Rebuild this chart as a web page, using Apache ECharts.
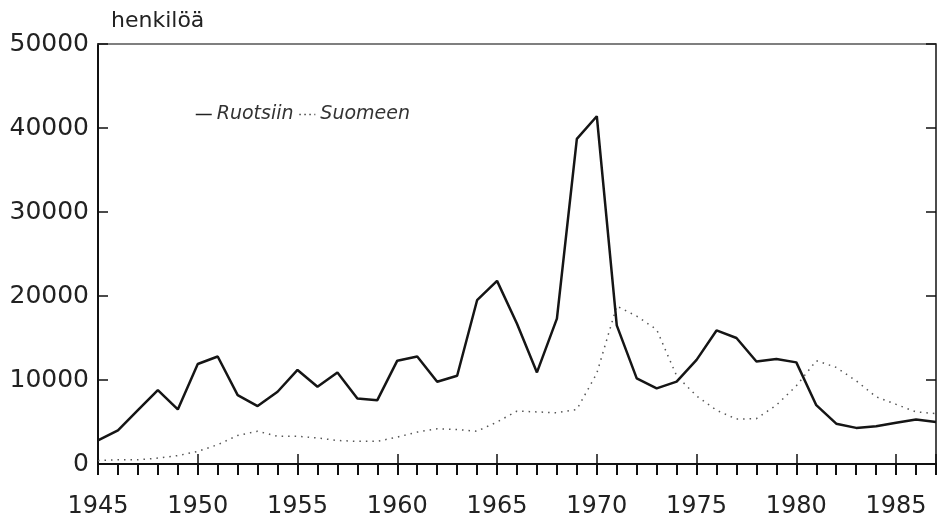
<!DOCTYPE html>
<html>
<head>
<meta charset="utf-8">
<script src="https://cdn.jsdelivr.net/npm/echarts@6/dist/echarts.min.js"></script>
<style>html,body{margin:0;padding:0;background:#fff}#c{width:939px;height:522px}</style>
</head>
<body>
<div id="c"></div>
<script>
const years = [];
for (let y = 1945; y <= 1987; y++) years.push(y);
const ruotsiin = [2800,4000,6400,8800,6500,11900,12800,8200,6900,8600,
  11200,9200,10900,7800,7600,12300,12800,9800,10500,19500,
  21800,16700,10900,17300,38700,41400,16500,10200,9000,9800,
  12400,15900,15000,12200,12500,12100,7000,4800,4300,4500,
  4900,5300,5000];
const suomeen = [400,500,500,700,1000,1500,2300,3400,3900,3300,
  3300,3100,2800,2700,2700,3200,3800,4200,4100,3900,
  5000,6300,6200,6100,6500,10800,18800,17600,16000,10500,
  8100,6400,5350,5400,7000,9300,12300,11500,9900,8000,
  7100,6200,6000];
const yTicks = [0,10000,20000,30000,40000,50000];
const xLabelStep = 5;

const font = 'DejaVu Sans';
const chart = echarts.init(document.getElementById('c'), null, {renderer:'canvas'});
chart.setOption({
  animation: false,
  backgroundColor: '#fff',
  title: {
    text: 'henkilöä', left: 106, top: 5,
    textStyle: {fontFamily: font, fontSize: 22, fontWeight: 'normal', color: '#222'}
  },
  legend: {
    left: 190, top: 100, itemGap: 5,
    textStyle: {fontFamily: font, fontSize: 19, fontStyle: 'italic', color: '#333'},
    data: [
      {name: 'Ruotsiin', itemStyle: {opacity: 0}, lineStyle: {color: '#222', width: 1.5, type: 'solid'}},
      {name: 'Suomeen', itemStyle: {opacity: 0}, lineStyle: {color: '#444', width: 1.5, type: [1.5, 3.5]}}
    ],
    itemWidth: 16, itemHeight: 14
  },
  grid: {left: 98, top: 44, width: 844, height: 420},
  xAxis: [
    {
      type: 'value', min: 1945, max: 1987, interval: 1, position: 'bottom',
      axisLine: {show: true, lineStyle: {color: '#111', width: 2}},
      axisTick: {show: true, inside: false, length: 11, lineStyle: {color: '#111', width: 2}},
      axisLabel: {
        margin: 31, fontFamily: font, fontSize: 24, color: '#222',
        formatter: v => (v % xLabelStep === 0 && v < 1987) ? String(v) : ''
      },
      splitLine: {show: false}
    },
    {
      type: 'value', min: 1945, max: 1987, interval: 5, position: 'bottom',
      axisLine: {show: false},
      axisTick: {show: true, inside: true, length: 10, lineStyle: {color: '#111', width: 1.5}},
      axisLabel: {show: false},
      splitLine: {show: false}
    },
    {
      type: 'value', min: 1945, max: 1987, position: 'top',
      axisLine: {show: true, lineStyle: {color: '#555', width: 1.5}},
      axisTick: {show: false}, axisLabel: {show: false}, splitLine: {show: false}
    }
  ],
  yAxis: [
    {
      type: 'value', min: yTicks[0], max: yTicks[yTicks.length - 1], interval: 10000, position: 'left',
      axisLine: {show: true, lineStyle: {color: '#111', width: 2}},
      axisTick: {show: true, inside: true, length: 10, lineStyle: {color: '#111', width: 1.5}},
      axisLabel: {margin: 9, fontFamily: font, fontSize: 25, color: '#222', formatter: v => String(v)},
      splitLine: {show: false}
    },
    {
      type: 'value', min: yTicks[0], max: yTicks[yTicks.length - 1], interval: 10000, position: 'right',
      axisLine: {show: true, lineStyle: {color: '#111', width: 1.5}},
      axisTick: {show: true, inside: true, length: 10, lineStyle: {color: '#111', width: 1.5}},
      axisLabel: {show: false},
      splitLine: {show: false}
    }
  ],
  series: [
    {
      name: 'Ruotsiin', type: 'line', xAxisIndex: 0, yAxisIndex: 0,
      data: years.map((y, i) => [y, ruotsiin[i]]),
      symbol: 'none', lineStyle: {color: '#151515', width: 2.5}, z: 3
    },
    {
      name: 'Suomeen', type: 'line', xAxisIndex: 0, yAxisIndex: 0,
      data: years.map((y, i) => [y, suomeen[i]]),
      symbol: 'none', lineStyle: {color: '#555', width: 1.5, type: [1.5, 5]}, z: 2
    }
  ]
});
</script>
</body>
</html>
